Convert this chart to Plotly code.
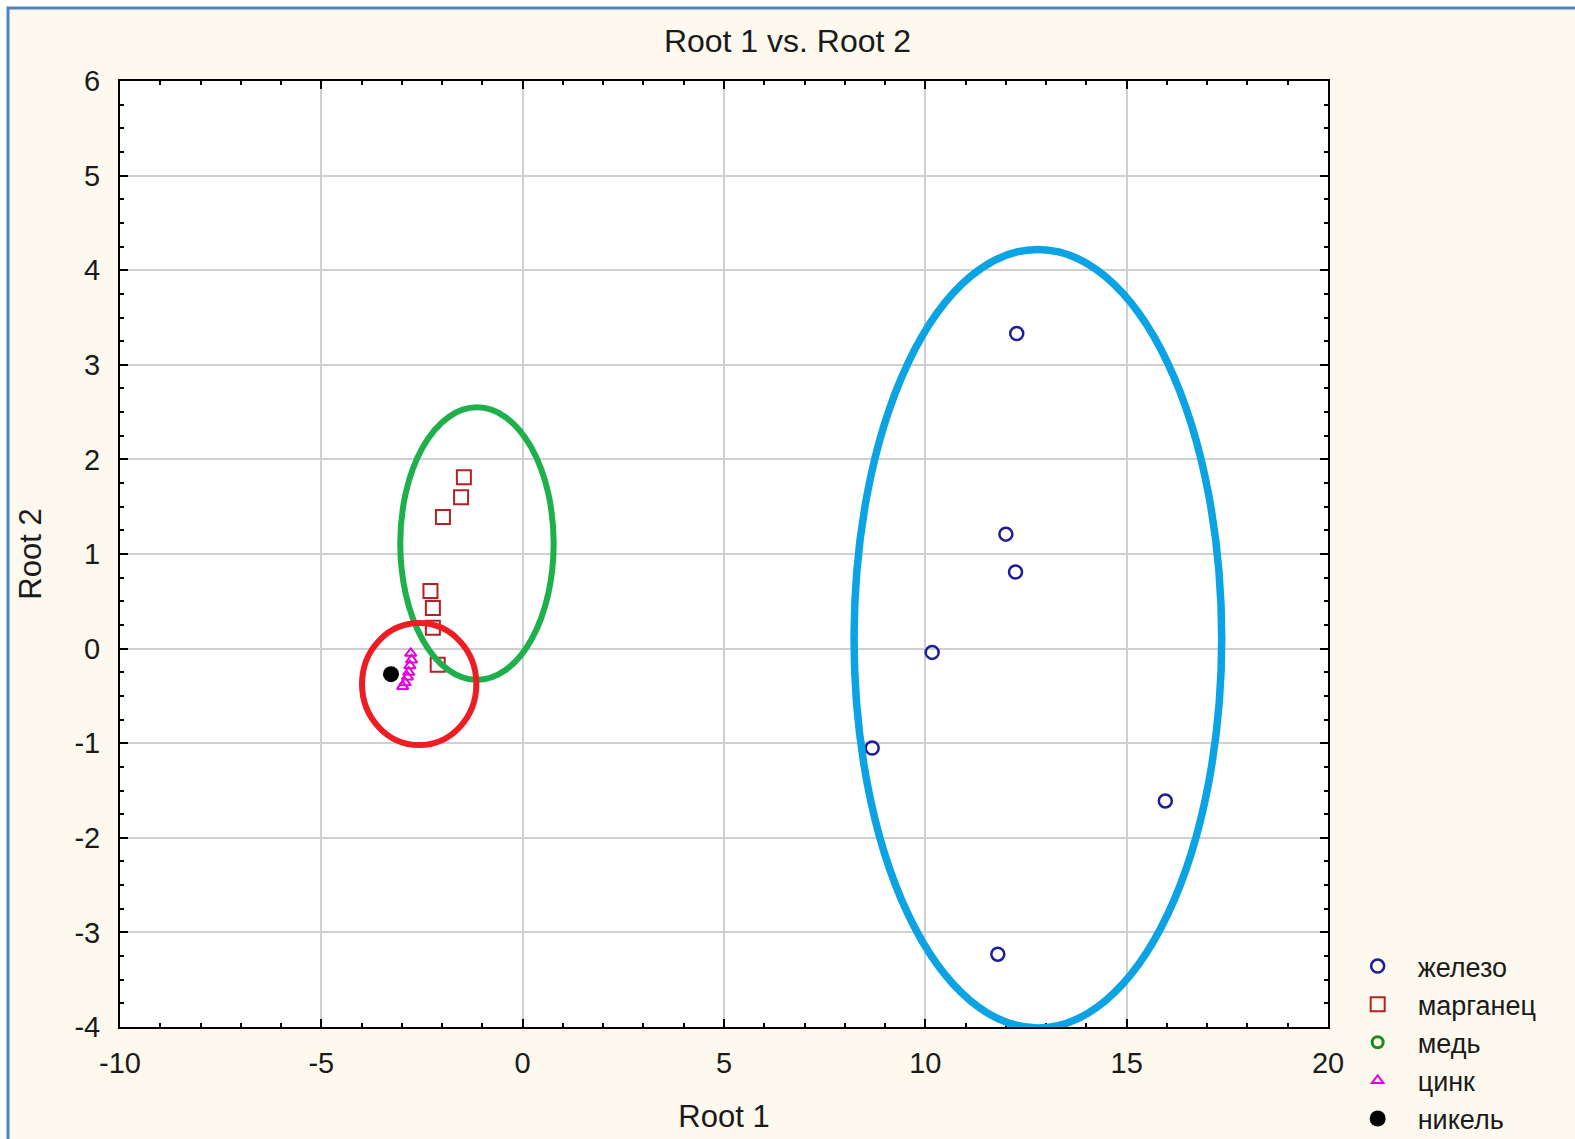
import plotly.graph_objects as go

# ---- data ----
iron_x = [12.27, 12.00, 12.24, 10.17, 8.68, 15.96, 11.80]
iron_y = [3.33, 1.21, 0.81, -0.04, -1.05, -1.61, -3.23]

mang_x = [-1.46, -1.53, -1.98, -2.29, -2.23, -2.23, -2.11]
mang_y = [1.81, 1.60, 1.39, 0.61, 0.43, 0.22, -0.17]

copper_x = [None]
copper_y = [None]

zinc_x = [-2.78, -2.76, -2.80, -2.83, -2.86, -2.92, -2.98]
zinc_y = [-0.05, -0.12, -0.18, -0.25, -0.30, -0.36, -0.40]

nickel_x = [-3.27]
nickel_y = [-0.27]

names = ["железо", "марганец", "медь", "цинк", "никель"]

x_ticks = [-10, -5, 0, 5, 10, 15, 20]
y_ticks = [-4, -3, -2, -1, 0, 1, 2, 3, 4, 5, 6]

# hand-drawn group ellipses (x0, x1, y0, y1, colour, width)
ellipses = [
    (8.23, 17.36, -4.01, 4.22, "#0BA3E3", 7.5),
    (-3.04, 0.77, -0.33, 2.55, "#1DB04B", 6),
    (-3.99, -1.15, -1.02, 0.27, "#EE1D23", 6),
]

FONT = "Liberation Sans, Arial, sans-serif"
TXT = "#1a1a1a"

fig = go.Figure()
fig.add_trace(go.Scatter(x=iron_x, y=iron_y, mode="markers", name=names[0],
                         marker=dict(symbol="circle-open", size=13, color="#1C1C9C",
                                     line=dict(width=2.5, color="#1C1C9C"))))
fig.add_trace(go.Scatter(x=mang_x, y=mang_y, mode="markers", name=names[1],
                         marker=dict(symbol="square-open", size=14, color="#B22222",
                                     line=dict(width=2, color="#B22222"))))
fig.add_trace(go.Scatter(x=copper_x, y=copper_y, mode="markers", name=names[2],
                         marker=dict(symbol="circle-open", size=11, color="#1A8A1A",
                                     line=dict(width=3, color="#1A8A1A"))))
fig.add_trace(go.Scatter(x=zinc_x, y=zinc_y, mode="markers", name=names[3],
                         marker=dict(symbol="triangle-up-open", size=10, color="#E000E0",
                                     line=dict(width=2, color="#E000E0"))))
fig.add_trace(go.Scatter(x=nickel_x, y=nickel_y, mode="markers", name=names[4],
                         marker=dict(symbol="circle", size=16, color="#000000")))

shapes = [
    # cream page with blue border
    dict(type="rect", xref="paper", yref="paper", x0=-0.0927, x1=1.4, y0=-0.3, y1=1.0772,
         fillcolor="#FDF9EE", line=dict(color="#4F81BD", width=3), layer="below"),
    # white plot area
    dict(type="rect", xref="paper", yref="paper", x0=0, x1=1, y0=0, y1=1,
         fillcolor="#FFFFFF", line=dict(width=0), layer="below"),
]
for x0, x1, y0, y1, c, w in ellipses:
    shapes.append(dict(type="circle", xref="x", yref="y", x0=x0, x1=x1, y0=y0, y1=y1,
                       line=dict(color=c, width=w), layer="above"))

axis_common = dict(
    showline=True, linecolor="#000000", linewidth=2, mirror="ticks",
    ticks="inside", ticklen=8, tickwidth=2, tickcolor="#000000",
    showgrid=True, gridcolor="#CFCFCF", gridwidth=1.5, zeroline=False,
    tickfont=dict(family=FONT, size=29, color=TXT),
)

fig.update_layout(
    width=1575, height=1139,
    margin=dict(l=120, r=247, t=81, b=112, autoexpand=False),
    paper_bgcolor="#FFFFFF", plot_bgcolor="#FFFFFF",
    title=dict(text="Root 1 vs. Root 2", x=0.5, xref="container", xanchor="center",
               y=1 - 41 / 1139, yref="container", yanchor="middle",
               font=dict(family=FONT, size=32, color=TXT)),
    xaxis=dict(range=[-10, 20], tickvals=x_ticks, ticktext=[str(v) for v in x_ticks],
               title=dict(text="Root 1", font=dict(family=FONT, size=31, color=TXT), standoff=28),
               minor=dict(ticks="inside", dtick=1, ticklen=4, tickwidth=1.5, tickcolor="#000000",
                          showgrid=False),
               ticklabelstandoff=9,
               **axis_common),
    yaxis=dict(range=[-4, 6], tickvals=y_ticks, ticktext=[str(v) for v in y_ticks],
               title=dict(text="Root 2", font=dict(family=FONT, size=31, color=TXT), standoff=24),
               minor=dict(ticks="inside", dtick=0.25, ticklen=4, tickwidth=1.5, tickcolor="#000000",
                          showgrid=False),
               ticklabelstandoff=12,
               **axis_common),
    legend=dict(x=1.008, xanchor="left", y=0.0898, yanchor="top",
                bgcolor="rgba(0,0,0,0)", font=dict(family=FONT, size=27, color=TXT),
                tracegroupgap=0, itemsizing="trace", itemwidth=70),
    shapes=shapes,
)

fig.write_html("out.html")
